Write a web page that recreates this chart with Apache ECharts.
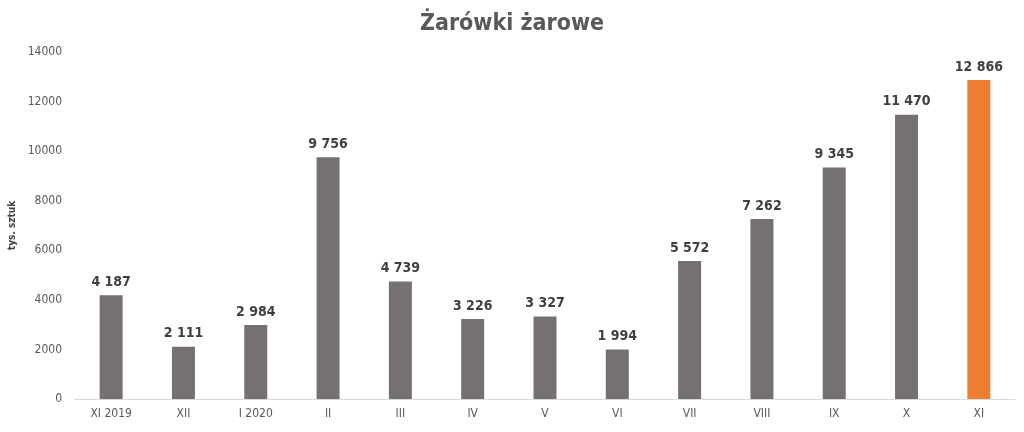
<!DOCTYPE html>
<html><head><meta charset="utf-8">
<script src="https://cdn.jsdelivr.net/npm/echarts@6/dist/echarts.min.js"></script>
<style>html,body{margin:0;padding:0;background:#fff}#c{width:1024px;height:432px}</style>
</head><body><div id="c"></div>
<script>
const categories = ["XI 2019","XII","I 2020","II","III","IV","V","VI","VII","VIII","IX","X","XI"];
const values = [4187,2111,2984,9756,4739,3226,3327,1994,5572,7262,9345,11470,12866];
const yTicks = [0,2000,4000,6000,8000,10000,12000,14000];
const titleText = "Żarówki żarowe";
const yName = "tys. sztuk";

const F = '"DejaVu Sans Condensed","Liberation Sans Narrow","Arial Narrow",sans-serif';
const chart = echarts.init(document.getElementById('c'));
chart.setOption({
  animation:false,
  title:{text:titleText,left:'center',top:8,textStyle:{fontFamily:F,fontSize:23,fontWeight:'bold',color:'#595959'}},
  grid:{left:75,right:9,top:52,bottom:33,containLabel:false,outerBoundsMode:'none'},
  xAxis:{type:'category',data:categories,
    axisLine:{lineStyle:{color:'#d9d9d9'}},axisTick:{show:false},
    axisLabel:{fontFamily:F,fontSize:12,color:'#595959',margin:9}},
  yAxis:{type:'value',min:yTicks[0],max:yTicks[yTicks.length-1],interval:2000,
    name:yName,nameLocation:'middle',nameGap:58,nameMoveOverlap:false,
    nameTextStyle:{fontFamily:F,fontSize:10,color:'#404040',fontWeight:'bold'},
    splitLine:{show:false},axisLine:{show:false},axisTick:{show:false},
    axisLabel:{fontFamily:F,fontSize:12,color:'#595959',margin:13,formatter:v=>String(v)}},
  series:[{type:'bar',barWidth:23,
    data:values.map((v,i)=>({value:v,itemStyle:{color:i===values.length-1?'#ED7D31':'#767171'}})),
    label:{show:true,position:'top',distance:6,fontFamily:F,fontSize:14,fontWeight:'bold',color:'#404040',
      formatter:p=>String(p.value).replace(/\B(?=(\d{3})+(?!\d))/g,' ')}}]
});
</script></body></html>
